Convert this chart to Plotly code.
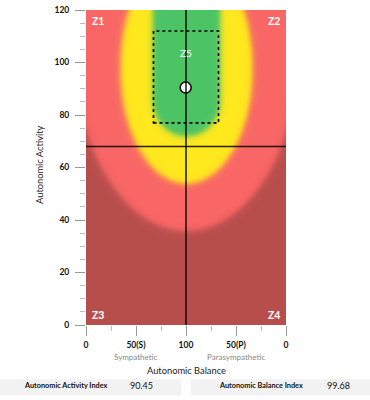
import numpy as np
import plotly.graph_objects as go

# ---- data ----
activity_index = 90.45
balance_index = 99.68
activity_threshold = 68
balance_center = 100
z5_box_x = [67.5, 132.5]
z5_box_y = [77, 112]
x_tickvals = [0, 50, 100, 150, 200]
x_ticktext = ["0", "50(S)", "100", "50(P)", "0"]
y_tickvals = [0, 20, 40, 60, 80, 100, 120]
corner_labels = ["Z1", "Z2", "Z3", "Z4"]
corner_x = [4, 196, 4, 196]
corner_y = [116, 116, 4, 4]
corner_anchor = ["left", "right", "left", "right"]
center_label = "Z5"
center_label_pos = [100, 103.5]

# zone shading (rounded zones: y_lo, y_hi, a, b) – decorative background
zone_green = (86, 130, 34, 14)
zone_yellow = (97, 99, 66, 43)
zone_red = (105, 105, 112, 69)
zone_colors = ["#4CC466", "#FFE81E", "#F86665", "#B84E4C"]

# ---- background field ----
PX_X = 1.0        # px per x unit
PX_Y = 315 / 120  # px per y unit
gx = np.linspace(0, 200, 201)
gy = np.linspace(0, 120, 316)
X, Y = np.meshgrid(gx, gy)


def soft(zone, w=1.7):
    y_lo, y_hi, a, b = zone
    dx = (X - balance_center) * PX_X
    dy = np.maximum(0, np.maximum(y_lo - Y, Y - y_hi)) * PX_Y
    ap, bp = a * PX_X, b * PX_Y
    f = (dx / ap) ** 2 + (dy / bp) ** 2 - 1
    g = 2 * np.sqrt((dx / ap**2) ** 2 + (dy / bp**2) ** 2) + 1e-6
    d = f / g
    return 1 / (1 + np.exp(-np.clip(d / w, -50, 50)))


level = soft(zone_green) + soft(zone_yellow) + soft(zone_red)
level = np.round(level, 3)

cs = [[0, zone_colors[0]], [1 / 3, zone_colors[1]], [2 / 3, zone_colors[2]], [1, zone_colors[3]]]

fig = go.Figure()
fig.add_trace(go.Heatmap(x=gx, y=gy, z=level, zmin=0, zmax=3, colorscale=cs,
                         showscale=False, hoverinfo="skip"))

# threshold lines
fig.add_shape(type="line", x0=0, x1=200, y0=activity_threshold, y1=activity_threshold,
              line=dict(color="rgba(0,0,0,0.85)", width=1.3))
fig.add_shape(type="line", x0=balance_center, x1=balance_center, y0=0, y1=120,
              line=dict(color="rgba(0,0,0,0.75)", width=1.8))
# Z5 box
fig.add_shape(type="rect", x0=z5_box_x[0], x1=z5_box_x[1], y0=z5_box_y[0], y1=z5_box_y[1],
              line=dict(color="black", width=1.6, dash="dot"))

fig.add_trace(go.Scatter(x=[balance_index], y=[activity_index], mode="markers",
                         marker=dict(size=11, color="white", line=dict(color="black", width=1.5)),
                         hoverinfo="skip", showlegend=False))


def note(x, y, text, size, color, xref="paper", yref="paper", xanchor="center", angle=0):
    return dict(x=x, y=y, xref=xref, yref=yref, text=text, showarrow=False, textangle=angle,
                xanchor=xanchor, yanchor="middle", font=dict(family="Lato", size=size, color=color))


ann = []
for lab, xx, yy, anc in zip(corner_labels, corner_x, corner_y, corner_anchor):
    ann.append(note(xx, yy, "<b>" + lab + "</b>", 10.5, "white", "x", "y", anc))
ann.append(note(center_label_pos[0], center_label_pos[1], center_label, 10, "white", "x", "y"))

# axis titles / sub labels
ann.append(note(-0.23, 0.508, "Autonomic Activity", 9.3, "#222", angle=-90))
ann.append(note(100, -0.146, "Autonomic Balance", 9.3, "#222", xref="x"))
ann.append(note(50, -0.1016, "Sympathetic", 8, "#888", xref="x"))
ann.append(note(150, -0.1016, "Parasympathetic", 8, "#888", xref="x"))

# table
shapes_tbl = [
    dict(type="rect", xref="paper", yref="paper", x0=-0.43, x1=(181 - 86) / 200, y0=-0.224, y1=-0.172,
         fillcolor="#F2F2F2", line=dict(width=0), layer="below"),
    dict(type="rect", xref="paper", yref="paper", x0=(191 - 86) / 200, x1=1.43, y0=-0.224, y1=-0.172,
         fillcolor="#F2F2F2", line=dict(width=0), layer="below"),
]
for s in shapes_tbl:
    fig.add_shape(**s)
ty = -0.1927
ann.append(note(-0.1, ty, "<b>Autonomic Activity Index</b>", 7.3, "#111"))
ann.append(note(0.275, ty, f"{activity_index:.2f}", 9, "#111"))
ann.append(note(0.875, ty, "<b>Autonomic Balance Index</b>", 7.3, "#111"))
ann.append(note(1.26, ty, f"{balance_index:.2f}", 9, "#111"))

fig.update_layout(
    width=370, height=400,
    margin=dict(l=86, r=84, t=10, b=75),
    paper_bgcolor="white", plot_bgcolor="white",
    showlegend=False,
    annotations=ann,
    font=dict(family="Lato"),
)
fig.update_xaxes(range=[0, 200], tickvals=x_tickvals, ticktext=x_ticktext, ticks="outside",
                 ticklen=10, tickwidth=1, tickcolor="#999", showgrid=False, zeroline=False,
                 showline=False, automargin=False, ticklabelstandoff=2,
                 tickfont=dict(family="Lato", size=8.5, color="#111", weight="bold"),
                 minor=dict(tickvals=[25, 75, 125, 175], ticks="outside", ticklen=5, tickcolor="#BBB", showgrid=False))
fig.update_yaxes(range=[0, 120], tickvals=y_tickvals, ticks="outside",
                 ticklen=10, tickwidth=1, tickcolor="#999", showgrid=False, zeroline=False,
                 showline=False, automargin=False, ticklabelstandoff=4,
                 tickfont=dict(family="Lato", size=8.5, color="#111", weight="bold"),
                 minor=dict(dtick=5, ticks="outside", ticklen=5, tickcolor="#BBB", showgrid=False))

fig.write_html("out.html", config={"displayModeBar": False},
               post_script="document.body.style.margin='0';document.body.style.overflow='hidden';")
